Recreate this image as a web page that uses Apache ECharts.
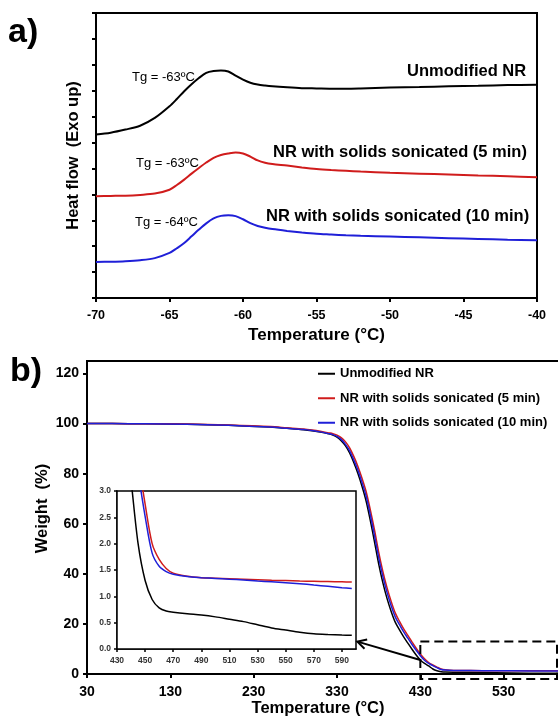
<!DOCTYPE html>
<html>
<head>
<meta charset="utf-8">
<script src="https://cdn.jsdelivr.net/npm/echarts@6/dist/echarts.min.js"></script>
<style>
  html, body { margin: 0; padding: 0; background: #fff; overflow: hidden; }
  #chart { width: 558px; height: 716px; }
</style>
</head>
<body>
<div id="chart"></div>
<script>
// a) DSC curves (heat flow in arbitrary tick units)
const dscTemp = [-70, -69, -68, -67, -66, -65, -64.5, -64, -63.5, -63, -62.5, -62, -61.5, -61, -60.5, -60,
  -59.5, -59, -58.5, -58, -57, -56, -55, -54, -53, -52, -50, -48, -46, -44, -42, -40];
const dscUnmod = [6.31, 6.38, 6.50, 6.65, 6.95, 7.40, 7.68, 7.98, 8.25, 8.49, 8.69, 8.76, 8.78, 8.74, 8.58, 8.43,
  8.31, 8.24, 8.20, 8.17, 8.13, 8.10, 8.09, 8.08, 8.08, 8.09, 8.12, 8.14, 8.17, 8.19, 8.22, 8.23];
const dsc5min = [3.93, 3.94, 3.95, 3.98, 4.03, 4.18, 4.36, 4.57, 4.80, 5.02, 5.23, 5.41, 5.52, 5.58, 5.62, 5.58,
  5.46, 5.31, 5.22, 5.17, 5.11, 5.04, 4.98, 4.94, 4.91, 4.88, 4.83, 4.80, 4.77, 4.73, 4.70, 4.66];
const dsc10min = [1.39, 1.40, 1.42, 1.46, 1.54, 1.74, 1.92, 2.12, 2.38, 2.64, 2.88, 3.07, 3.17, 3.19, 3.16, 3.04,
  2.89, 2.78, 2.71, 2.66, 2.59, 2.53, 2.48, 2.45, 2.42, 2.40, 2.37, 2.34, 2.31, 2.28, 2.25, 2.23];
const tgLabels = ['Tg = -63ºC', 'Tg = -63ºC', 'Tg = -64ºC'];

// b) TGA curves (weight %)
const tgaTemp = [30, 60, 100, 150, 200, 250, 270, 290, 300, 310, 320, 325, 330, 335, 340, 345, 350, 355, 360,
  365, 370, 375, 380, 385, 390, 395, 400, 405, 410, 415, 420, 425, 430, 435, 440, 445, 450, 455, 460, 470,
  490, 520, 560, 600, 640];
const tgaUnmod = [100, 100, 99.9, 99.7, 99.3, 98.6, 98.1, 97.5, 97.1, 96.6, 95.9, 95.4, 94.6, 93.2, 91.2, 88.4,
  84.6, 80.2, 75.0, 69.0, 61.3, 52.8, 44.0, 36.5, 30.2, 25.0, 20.6, 17.6, 14.8, 12.3, 9.9, 7.6, 5.6, 4.2, 3.2,
  2.0, 1.3, 0.94, 0.78, 0.70, 0.65, 0.52, 0.32, 0.26, 0.22];
const tga5min = [100, 100, 99.95, 99.8, 99.4, 98.8, 98.3, 97.8, 97.4, 96.9, 96.3, 96.0, 95.4, 94.4, 92.8, 90.4,
  87.0, 83.0, 78.2, 72.8, 65.5, 57.5, 48.7, 41.0, 34.5, 29.0, 24.3, 21.0, 18.0, 15.4, 12.8, 10.3, 8.0, 6.1, 4.6,
  3.6, 2.75, 2.0, 1.7, 1.44, 1.36, 1.33, 1.29, 1.27, 1.25];
const tga10min = [100, 100, 99.9, 99.7, 99.3, 98.6, 98.1, 97.6, 97.2, 96.7, 96.0, 95.6, 94.9, 93.7, 91.8, 89.2,
  85.6, 81.5, 76.5, 71.0, 63.5, 55.3, 46.5, 39.0, 32.6, 27.3, 22.7, 19.7, 16.8, 14.3, 11.8, 9.5, 7.3, 5.5, 4.2,
  3.35, 2.52, 1.82, 1.57, 1.42, 1.355, 1.31, 1.24, 1.15, 1.07];

// inset, 430-600 °C
const insetTemp = [435, 440, 445, 450, 455, 460, 465, 470, 480, 490, 500, 510, 520, 530, 540, 550, 560, 570, 580, 590, 597];
const insetUnmod = [4.3, 3.2, 2.0, 1.3, 0.94, 0.78, 0.72, 0.70, 0.67, 0.645, 0.61, 0.565, 0.52, 0.46, 0.40, 0.36,
  0.32, 0.29, 0.275, 0.265, 0.26];
const inset5min = [5.5, 4.5, 3.6, 2.75, 2.0, 1.7, 1.53, 1.44, 1.38, 1.355, 1.345, 1.335, 1.325, 1.315, 1.305, 1.30,
  1.29, 1.285, 1.28, 1.275, 1.27];
const inset10min = [5.2, 4.2, 3.35, 2.52, 1.82, 1.57, 1.47, 1.42, 1.375, 1.355, 1.34, 1.325, 1.31, 1.29, 1.275, 1.26,
  1.24, 1.215, 1.19, 1.165, 1.15];

const names = ['Unmodified NR', 'NR with solids sonicated (5 min)', 'NR with solids sonicated (10 min)'];
const colors = ['#000000', '#d01c1c', '#1f1fd8'];
const FONT = 'Liberation Sans, Arial, sans-serif';

function pairs(xs, ys) {
  return xs.map((x, i) => [x, ys[i]]);
}

function axis(gridIndex, lw, tickLen, extra) {
  return Object.assign({
    type: 'value',
    gridIndex: gridIndex,
    splitLine: {show: false},
    axisLine: {show: true, onZero: false, lineStyle: {color: '#000', width: lw}},
    axisTick: {show: true, inside: false, length: tickLen, lineStyle: {color: '#000', width: lw}}
  }, extra);
}

function lineSeries(name, data, color, axisIdx, width, smooth) {
  return {
    name: name,
    type: 'line',
    xAxisIndex: axisIdx,
    yAxisIndex: axisIdx,
    data: data,
    symbol: 'none',
    smooth: smooth,
    lineStyle: {color: color, width: width},
    itemStyle: {color: color},
    silent: true
  };
}

const chart = echarts.init(document.getElementById('chart'), null, {renderer: 'canvas'});

const option = {
  animation: false,
  backgroundColor: '#fff',
  textStyle: {fontFamily: FONT},
  grid: [
    {left: 96, top: 13, width: 441, height: 285, show: true, borderColor: '#000', borderWidth: 2,
      outerBoundsMode: 'none'},
    // right edge of panel b runs past the window, as in the cropped figure
    {left: 87, top: 361, width: 500, height: 313, show: true, borderColor: '#000', borderWidth: 2,
      outerBoundsMode: 'none'},
    {left: 117, top: 491, width: 239, height: 158, show: true, borderColor: '#000', borderWidth: 1.5,
      backgroundColor: '#fff', z: 5, outerBoundsMode: 'none'}
  ],
  legend: {
    data: names,
    orient: 'vertical',
    left: 318,
    top: 366,
    padding: 0,
    icon: 'rect',
    itemWidth: 17,
    itemHeight: 2,
    itemGap: 9,
    itemTextGap: 2,
    selectedMode: false,
    textStyle: {fontFamily: FONT, fontSize: 13, fontWeight: 'bold', color: '#000', lineHeight: 15.5}
  },
  xAxis: [
    axis(0, 2, 4, {
      min: -70, max: -40, interval: 5,
      axisLabel: {fontFamily: FONT, fontSize: 12.5, fontWeight: 'bold', color: '#000', margin: 11},
      name: 'Temperature (°C)', nameLocation: 'middle', nameGap: 29,
      nameTextStyle: {fontFamily: FONT, fontSize: 17, fontWeight: 'bold', color: '#000'}
    }),
    axis(1, 2, 4, {
      min: 30, max: 630, interval: 100,
      axisLabel: {fontFamily: FONT, fontSize: 14, fontWeight: 'bold', color: '#000', margin: 11},
      name: 'Temperature (°C)', nameLocation: 'middle', nameGap: 25,
      nameTextStyle: {fontFamily: FONT, fontSize: 16.5, fontWeight: 'bold', color: '#000', padding: [0, 38, 0, 0]}
    }),
    axis(2, 1.5, 3, {
      min: 430, max: 600, interval: 20,
      axisLabel: {fontFamily: FONT, fontSize: 8.5, fontWeight: 'bold', color: '#333', margin: 7, showMaxLabel: false}
    })
  ],
  yAxis: [
    axis(0, 2, 4, {
      min: 0, max: 11, interval: 1,
      axisLabel: {show: false},
      name: 'Heat flow  (Exo up)', nameLocation: 'middle', nameGap: 14,
      nameTextStyle: {fontFamily: FONT, fontSize: 16.5, fontWeight: 'bold', color: '#000'}
    }),
    axis(1, 2, 4, {
      min: 0, max: 125, interval: 20,
      axisLabel: {fontFamily: FONT, fontSize: 14, fontWeight: 'bold', color: '#000', margin: 8, showMaxLabel: false},
      name: 'Weight  (%)', nameLocation: 'middle', nameGap: 36, nameMoveOverlap: false,
      nameTextStyle: {fontFamily: FONT, fontSize: 16.5, fontWeight: 'bold', color: '#000', padding: [0, 0, 0, 18]}
    }),
    axis(2, 1.5, 3, {
      min: 0, max: 3, interval: 0.5,
      axisLabel: {fontFamily: FONT, fontSize: 8.5, fontWeight: 'bold', color: '#333', margin: 6,
        formatter: v => v.toFixed(1)}
    })
  ],
  series: [
    lineSeries('dsc-a', pairs(dscTemp, dscUnmod), colors[0], 0, 2, 0.3),
    lineSeries('dsc-b', pairs(dscTemp, dsc5min), colors[1], 0, 2, 0.3),
    lineSeries('dsc-c', pairs(dscTemp, dsc10min), colors[2], 0, 2, 0.3),
    lineSeries(names[0], pairs(tgaTemp, tgaUnmod), colors[0], 1, 1.5, 0.3),
    lineSeries(names[1], pairs(tgaTemp, tga5min), colors[1], 1, 1.5, 0.3),
    lineSeries(names[2], pairs(tgaTemp, tga10min), colors[2], 1, 1.5, 0.3),
    lineSeries('inset-a', pairs(insetTemp, insetUnmod), colors[0], 2, 1.5, 0.3),
    lineSeries('inset-b', pairs(insetTemp, inset5min), colors[1], 2, 1.5, 0.3),
    lineSeries('inset-c', pairs(insetTemp, inset10min), colors[2], 2, 1.5, 0.3)
  ]
};
// inset sits above the main plot
option.series.slice(6).forEach(s => { s.z = 6; });

chart.setOption(option);

// annotations: panel letters, curve labels, zoom box and arrow
function text(id, str, x, y, size, weight) {
  return {
    type: 'text', id: id, x: x, y: y, z: 50,
    style: {text: str, fontFamily: FONT, fontSize: size, fontWeight: weight, fill: '#000',
      textAlign: 'left', textVerticalAlign: 'middle'}
  };
}

const boxA = chart.convertToPixel({gridIndex: 1}, [430, 13]);
const boxB = chart.convertToPixel({gridIndex: 1}, [594, -2]);
const tail = chart.convertToPixel({gridIndex: 1}, [430, 5.6]);
const head = chart.convertToPixel({gridIndex: 2}, [601, 0.14]);

let dx = head[0] - tail[0], dy = head[1] - tail[1];
const len = Math.sqrt(dx * dx + dy * dy);
dx /= len; dy /= len;
const ang = 0.5, hl = 10;
function rot(a) {
  return [head[0] - hl * (dx * Math.cos(a) - dy * Math.sin(a)),
          head[1] - hl * (dx * Math.sin(a) + dy * Math.cos(a))];
}

chart.setOption({
  graphic: [
    text('la', 'a)', 8, 33, 34, 'bold'),
    text('lb', 'b)', 10, 372, 34, 'bold'),
    text('n1', names[0], 407, 71, 16.5, 'bold'),
    text('n2', names[1], 273, 152, 16.5, 'bold'),
    text('n3', names[2], 266, 216, 16.5, 'bold'),
    text('t1', tgLabels[0], 132, 77, 13, 'normal'),
    text('t2', tgLabels[1], 136, 163, 13, 'normal'),
    text('t3', tgLabels[2], 135, 222, 13, 'normal'),
    {
      type: 'rect', id: 'box', z: 40,
      shape: {x: boxA[0], y: boxA[1], width: boxB[0] - boxA[0], height: boxB[1] - boxA[1]},
      style: {fill: 'none', stroke: '#000', lineWidth: 2, lineDash: [9, 5]}
    },
    {
      type: 'line', id: 'arrow', z: 40,
      shape: {x1: tail[0], y1: tail[1], x2: head[0], y2: head[1]},
      style: {stroke: '#000', lineWidth: 2}
    },
    {
      type: 'polyline', id: 'arrowhead', z: 40,
      shape: {points: [rot(ang), head, rot(-ang)]},
      style: {fill: 'none', stroke: '#000', lineWidth: 2}
    }
  ]
});
</script>
</body>
</html>
